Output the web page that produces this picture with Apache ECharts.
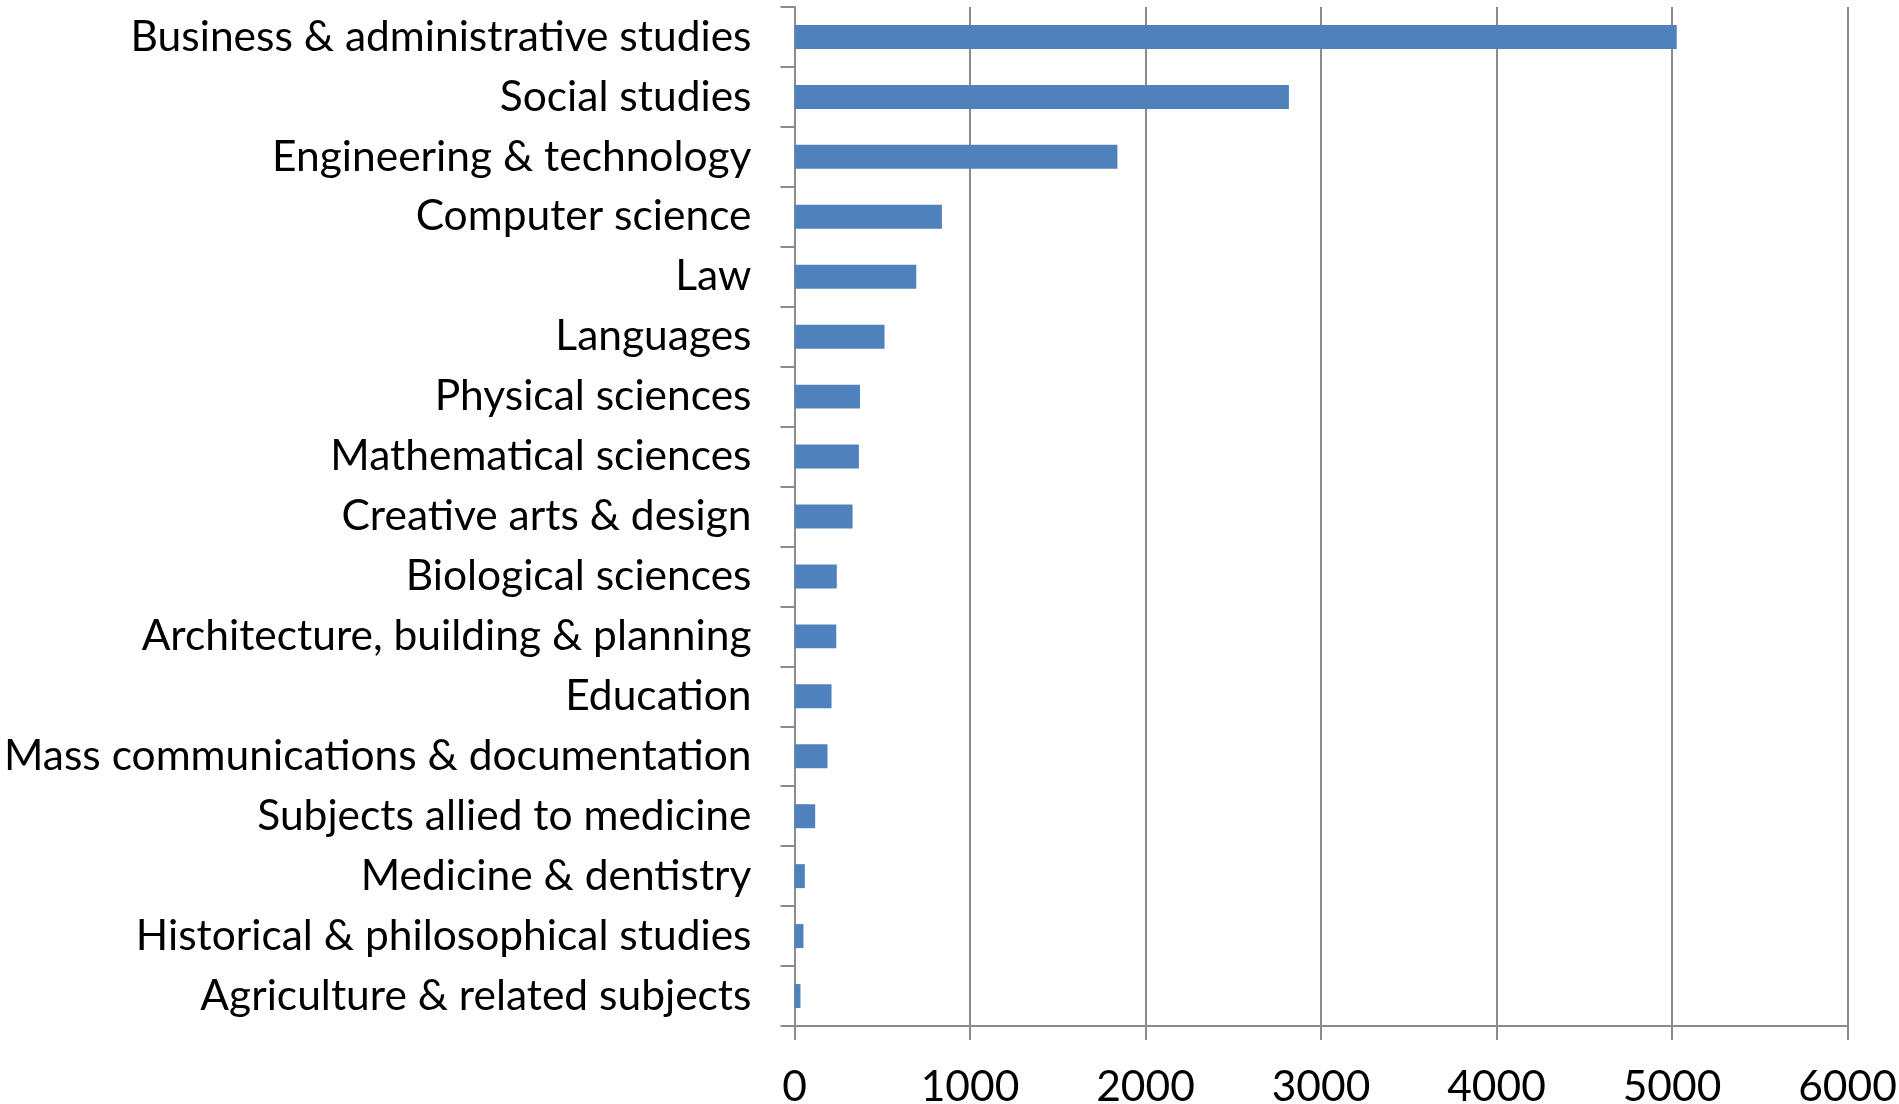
<!DOCTYPE html>
<html>
<head>
<meta charset="utf-8">
<script src="https://cdn.jsdelivr.net/npm/echarts@6/dist/echarts.min.js"></script>
<style>
html,body{margin:0;padding:0;background:#fff;}
#main{width:1899px;height:1104px;}
</style>
</head>
<body>
<div id="main"></div>
<script>
const categories = [
  "Business & administrative studies",
  "Social studies",
  "Engineering & technology",
  "Computer science",
  "Law",
  "Languages",
  "Physical sciences",
  "Mathematical sciences",
  "Creative arts & design",
  "Biological sciences",
  "Architecture, building & planning",
  "Education",
  "Mass communications & documentation",
  "Subjects allied to medicine",
  "Medicine & dentistry",
  "Historical & philosophical studies",
  "Agriculture & related subjects"
];
const values = [5027, 2817, 1840, 840, 694, 513, 373, 367, 331, 241, 238, 211, 188, 118, 59, 51, 34];
const xTicks = [0, 1000, 2000, 3000, 4000, 5000, 6000];

const FONT = 'Lato';
const chart = echarts.init(document.getElementById('main'), null, {renderer: 'canvas'});
const gray = '#8c8c8c';
chart.setOption({
  backgroundColor: '#ffffff',
  animation: false,
  grid: {left: 794.5, right: 51.5, top: 7, bottom: 78, containLabel: false, outerBoundsMode: 'none'},
  xAxis: {
    type: 'value',
    min: xTicks[0],
    max: xTicks[xTicks.length - 1],
    interval: xTicks[1] - xTicks[0],
    axisLine: {show: true, lineStyle: {color: gray, width: 2}},
    axisTick: {show: true, length: 14, inside: false, lineStyle: {color: gray, width: 2}},
    splitLine: {show: true, lineStyle: {color: gray, width: 2}},
    axisLabel: {color: '#000', fontFamily: FONT, fontSize: 42.5, margin: 40, formatter: v => String(v)}
  },
  yAxis: {
    type: 'category',
    data: categories,
    inverse: true,
    axisLine: {show: true, lineStyle: {color: gray, width: 2}},
    axisTick: {show: true, length: 14, inside: false, alignWithLabel: false, lineStyle: {color: gray, width: 2}},
    splitLine: {show: false},
    axisLabel: {color: '#000', fontFamily: FONT, fontSize: 42.5, margin: 43, interval: 0, padding: [8, 0, 0, 0]}
  },
  series: [{
    type: 'bar',
    data: values,
    barCategoryGap: '60%',
    itemStyle: {color: '#4f81bd'}
  }]
});
</script>
</body>
</html>
